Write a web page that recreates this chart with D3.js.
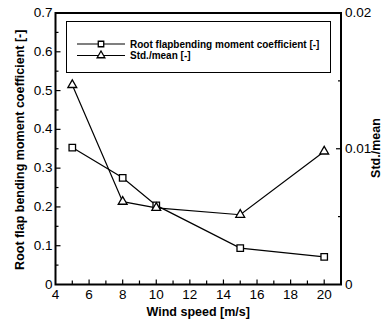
<!DOCTYPE html>
<html>
<head>
<meta charset="utf-8">
<script src="https://cdn.jsdelivr.net/npm/d3@7"></script>
<style>
  body { margin: 0; background: #fff; }
  svg text { font-family: "Liberation Sans", Arial, sans-serif; fill: #000; }
</style>
</head>
<body>
<script>
// data
let windSpeed = [5, 8, 10, 15, 20];
let flapMoment = [0.353, 0.275, 0.204, 0.094, 0.071];
let stdMean = [0.0147, 0.0061, 0.00565, 0.00514, 0.0098];
let xTicks = [4, 6, 8, 10, 12, 14, 16, 18, 20];
let yTicks = [0, 0.1, 0.2, 0.3, 0.4, 0.5, 0.6, 0.7];
let y2Ticks = [0, 0.01, 0.02];
let legendLabels = ["Root flapbending moment coefficient [-]", "Std./mean [-]"];

let W = 382, H = 324;
let P = {left: 55.5, right: 341, top: 13, bottom: 284.5};

let svg = d3.select("body").append("svg")
    .attr("width", W).attr("height", H);

let x = d3.scaleLinear().domain([4, 21]).range([P.left, P.right]);
let y = d3.scaleLinear().domain([0, 0.7]).range([P.bottom, P.top]);
let y2 = d3.scaleLinear().domain([0, 0.02]).range([P.bottom, P.top]);

// ticks, all pointing inward
function tickLines(g, vals, f, len){
  g.selectAll(null).data(vals).enter().append("line")
    .attr("stroke", "#000").attr("stroke-width", 1.2)
    .each(function(d){ let c = f(d, len); d3.select(this).attr("x1", c[0]).attr("y1", c[1]).attr("x2", c[2]).attr("y2", c[3]); });
}
let tk = svg.append("g");
let xMinor = d3.range(5, 21, 1).filter(v => v % 2);
tickLines(tk, xTicks.slice(1), (d, l) => [x(d), P.bottom, x(d), P.bottom - l], 5);
tickLines(tk, xMinor, (d, l) => [x(d), P.bottom, x(d), P.bottom - l], 4);
tickLines(tk, yTicks.slice(1, -1), (d, l) => [P.left, y(d), P.left + l, y(d)], 5);
tickLines(tk, d3.range(0.05, 0.7, 0.1), (d, l) => [P.left, y(d), P.left + l, y(d)], 3);
tickLines(tk, [0.01], (d, l) => [P.right, y2(d), P.right - l, y2(d)], 5);
tickLines(tk, [0.005, 0.015], (d, l) => [P.right, y2(d), P.right - l, y2(d)], 3);

// frame
svg.append("rect")
  .attr("x", P.left).attr("y", P.top)
  .attr("width", P.right - P.left).attr("height", P.bottom - P.top)
  .attr("fill", "none").attr("stroke", "#000").attr("stroke-width", 2);

// tick labels
svg.append("g").selectAll("text").data(xTicks).enter().append("text")
  .attr("x", d => x(d)).attr("y", P.bottom + 14)
  .attr("text-anchor", "middle").attr("font-size", 13.5)
  .text(d => d);
svg.append("g").selectAll("text").data(yTicks).enter().append("text")
  .attr("x", P.left - 3).attr("y", d => y(d) + 4)
  .attr("text-anchor", "end").attr("font-size", 13.5)
  .text(d => d === 0 ? "0" : d3.format(".1f")(d));
svg.append("g").selectAll("text").data(y2Ticks).enter().append("text")
  .attr("x", P.right + 4).attr("y", d => y2(d) + 4)
  .attr("text-anchor", "start").attr("font-size", 13.5)
  .text(d => d === 0 ? "0" : d3.format(".2f")(d));

// axis titles
svg.append("text")
  .attr("x", (P.left + P.right) / 2).attr("y", 316)
  .attr("text-anchor", "middle").attr("font-size", 12.5).attr("font-weight", "bold")
  .text("Wind speed [m/s]");
svg.append("text")
  .attr("transform", "translate(24," + ((P.top + P.bottom) / 2 + 1) + ") rotate(-90)")
  .attr("text-anchor", "middle").attr("font-size", 12.5).attr("font-weight", "bold")
  .text("Root flap bending moment coefficient [-]");
svg.append("text")
  .attr("transform", "translate(380,148) rotate(-90)")
  .attr("text-anchor", "middle").attr("font-size", 12.5).attr("font-weight", "bold")
  .text("Std./mean");

// series
let sq = windSpeed.map((v, i) => [x(v), y(flapMoment[i])]);
let tr = windSpeed.map((v, i) => [x(v), y2(stdMean[i])]);
let line = d3.line();
svg.append("path").attr("d", line(sq)).attr("fill", "none").attr("stroke", "#000").attr("stroke-width", 1.2);
svg.append("path").attr("d", line(tr)).attr("fill", "none").attr("stroke", "#000").attr("stroke-width", 1.2);

let sqSym = d3.symbol().type(d3.symbolSquare).size(42);
let trSym = d3.symbol().type(d3.symbolTriangle).size(34);
function markers(pts, sym){
  svg.append("g").selectAll("path").data(pts).enter().append("path")
    .attr("d", sym).attr("transform", d => "translate(" + d[0] + "," + d[1] + ")")
    .attr("fill", "#fff").attr("stroke", "#000").attr("stroke-width", 1.3);
}
markers(sq, sqSym);
markers(tr, trSym);

// legend
let lg = svg.append("g");
lg.append("rect").attr("x", 66.5).attr("y", 21.5).attr("width", 264).attr("height", 51)
  .attr("fill", "#fff").attr("stroke", "#000").attr("stroke-width", 1);
let legSq = d3.symbol().type(d3.symbolSquare).size(30);
let legTr = d3.symbol().type(d3.symbolTriangle).size(26);
[legSq, legTr].forEach((sym, i) => {
  let yy = 44 + i * 11.5;
  lg.append("line").attr("x1", 77).attr("x2", 125).attr("y1", yy).attr("y2", yy)
    .attr("stroke", "#000").attr("stroke-width", 1.2);
  lg.append("path").attr("d", sym).attr("transform", "translate(101," + yy + ")")
    .attr("fill", "#fff").attr("stroke", "#000").attr("stroke-width", 1.3);
  lg.append("text").attr("x", 130).attr("y", yy + 3.5)
    .attr("font-size", 10).attr("font-weight", "bold")
    .text(legendLabels[i]);
});
</script>
</body>
</html>
